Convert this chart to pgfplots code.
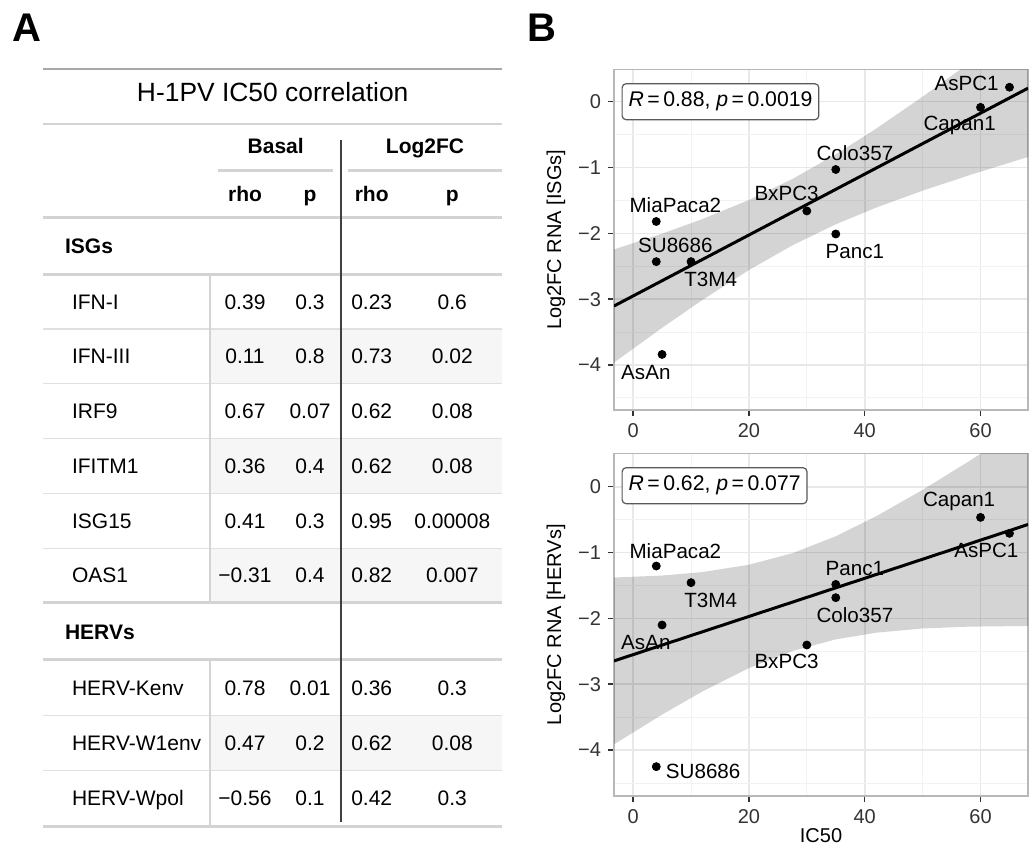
\documentclass[border=0pt]{standalone}
\usepackage{fontspec}
\setmainfont{Liberation Sans}
\usepackage{pgfplots}
\pgfplotsset{compat=1.18}

\definecolor{rulegray}{HTML}{D3D3D3}
\definecolor{topgray}{HTML}{A8A8A8}
\definecolor{stripe}{HTML}{F6F6F6}

\pgfplotsset{
  rnapanel/.style={
    scale only axis, width=207pt,
    xmin=-3.3, xmax=68.2,
    xtick={0,20,40,60}, xticklabels={0,20,40,60},
    minor xtick={10,30,50},
    ytick={-4,-3,-2,-1,0}, yticklabels={−4,−3,−2,−1,0},
    minor ytick={-4.5,-3.5,-2.5,-1.5,-0.5},
    grid=both,
    major grid style={black!9, line width=0.8pt},
    minor grid style={black!5, line width=0.4pt},
    axis line style={black!28, line width=0.7pt},
    tick pos=left, tick align=outside,
    major tick length=3pt, minor tick length=0pt,
    tick style={black!80, line width=0.7pt},
    ticklabel style={font=\fontsize{10}{11}\selectfont, text=black!80},
    label style={font=\fontsize{11.5}{13}\selectfont},
    every axis y label/.style={at={(axis description cs:-0.14,0.5)}, rotate=90, anchor=center},
    every axis x label/.style={at={(axis description cs:0.5,-0.116)}, anchor=center},
    clip mode=individual,
  },
}
\tikzset{
  ptlab/.style={font=\fontsize{10.3}{12}\selectfont, inner sep=0pt},
  rbox/.style={draw=black!65, fill=white, rounded corners=2pt, line width=0.6pt,
    font=\fontsize{10.6}{12}\selectfont, inner xsep=3.2pt, minimum height=18pt, anchor=west},
}

\begin{document}
\begin{tikzpicture}
\path[use as bounding box] (0,0) rectangle (518pt,424.5pt);

% ---------------- panel A: table ----------------
\begin{scope}[x=0.5pt, y=-0.5pt, yshift=424.5pt]
  \node[font=\fontsize{20}{22}\bfseries\selectfont, anchor=base] at (27,41.7) {A};
  \node[font=\fontsize{20}{22}\bfseries\selectfont, anchor=base] at (542,42) {B};

  % striped rows
  \foreach \ya/\yb in {329/383.7, 438.7/493.3, 548.3/602.7, 715.3/770.7}
    \fill[stripe] (210,\ya) rectangle (502,\yb);

  % rules
  \draw[topgray, line width=1.3pt] (43,69) -- (502,69);
  \foreach \yy in {124, 217.7, 274.3, 602.7, 659.3, 826.7}
    \draw[rulegray, line width=1.3pt] (43,\yy) -- (502,\yy);
  \foreach \yy in {329, 383.7, 438.7, 493.3, 548.3, 715.3, 770.7}
    \draw[rulegray!70, line width=0.7pt] (43,\yy) -- (502,\yy);
  \draw[rulegray, line width=1.8pt] (218,170.7) -- (333,170.7);
  \draw[rulegray, line width=1.8pt] (348,170.7) -- (502,170.7);
  \draw[rulegray, line width=1.2pt] (210,274.3) -- (210,602.7);
  \draw[rulegray, line width=1.2pt] (210,659.3) -- (210,826.7);
  \draw[black!75, line width=1pt] (340.7,140) -- (340.7,821.7);

  % header
  \node[font=\fontsize{13.2}{15}\selectfont, anchor=base] at (272.7,101.7) {H-1PV IC50 correlation};
  \begin{scope}[every node/.style={font=\fontsize{10.5}{12}\bfseries\selectfont, anchor=base}]
    \node at (275.7,154) {Basal};
    \node at (425,154) {Log2FC};
    \node at (245,201.7) {rho};
    \node at (310,201.7) {p};
    \node at (371.7,201.7) {rho};
    \node at (452.3,201.7) {p};
    \node[anchor=base west] at (58,254) {ISGs};
    \node[anchor=base west] at (58,639.3) {HERVs};
  \end{scope}

  % body
  \begin{scope}[every node/.style={font=\fontsize{10.5}{12}\selectfont, anchor=base}]
    \foreach \yb/\lab/\ra/\pa/\rb/\pb in {
      309.3/IFN-I/0.39/0.3/0.23/0.6,
      364/IFN-III/0.11/0.8/0.73/0.02,
      419/IRF9/0.67/0.07/0.62/0.08,
      473.3/IFITM1/0.36/0.4/0.62/0.08,
      528.7/ISG15/0.41/0.3/0.95/0.00008,
      582.7/OAS1/−0.31/0.4/0.82/0.007,
      695.7/HERV-Kenv/0.78/0.01/0.36/0.3,
      750.7/HERV-W1env/0.47/0.2/0.62/0.08,
      806/HERV-Wpol/−0.56/0.1/0.42/0.3}{
      \node[anchor=base west] at (65,\yb) {\lab};
      \node at (245,\yb) {\ra};
      \node at (310,\yb) {\pa};
      \node at (371.7,\yb) {\rb};
      \node at (452.3,\yb) {\pb};
    }
  \end{scope}
\end{scope}

% ---------------- panel B top: ISGs ----------------
\begin{axis}[rnapanel, at={(307pt,219.5pt)}, anchor=south west,
  height=170.3pt, ymin=-4.684, ymax=0.491,
  ylabel={Log2FC RNA [ISGs]}]
  \addplot[draw=none, fill=black, fill opacity=0.17] coordinates {
    (-3.3,-2.245) (5,-2.005) (12,-1.782) (20,-1.494) (27.56,-1.172) (35,-0.801)
    (42,-0.408) (50,0.076) (58,0.584) (68.2,1.250)
    (68.2,-0.840) (58,-1.118) (50,-1.352) (42,-1.608) (35,-1.863) (27.56,-2.180)
    (20,-2.558) (12,-3.010) (5,-3.436) (-3.3,-3.963)} -- cycle;
  \addplot[black, line width=1.5pt] coordinates {(-3.3,-3.104) (68.2,0.205)};
  \addplot[only marks, mark=*, mark size=2pt, black] coordinates {
    (65,0.22) (60,-0.086) (35,-1.03) (30,-1.66) (35,-2.01)
    (4,-1.82) (4,-2.43) (10,-2.43) (5,-3.84)};
  \node[ptlab] at (axis cs:57.6,0.28) {AsPC1};
  \node[ptlab] at (axis cs:56.4,-0.354) {Capan1};
  \node[ptlab] at (axis cs:38.3,-0.785) {Colo357};
  \node[ptlab] at (axis cs:26.5,-1.40) {BxPC3};
  \node[ptlab] at (axis cs:7.3,-1.57) {MiaPaca2};
  \node[ptlab] at (axis cs:7.3,-2.19) {SU8686};
  \node[ptlab] at (axis cs:13.4,-2.70) {T3M4};
  \node[ptlab] at (axis cs:38.3,-2.28) {Panc1};
  \node[ptlab] at (axis cs:2.2,-4.11) {AsAn};
  \node[rbox] at (axis cs:-2.0,0.0) {\textit{R}\,=\,0.88, \textit{p}\,=\,0.0019};
\end{axis}

% ---------------- panel B bottom: HERVs ----------------
\begin{axis}[rnapanel, at={(307pt,26.5pt)}, anchor=south west,
  height=171.3pt, ymin=-4.699, ymax=0.506,
  ylabel={Log2FC RNA [HERVs]}, xlabel={IC50}]
  \addplot[draw=none, fill=black, fill opacity=0.17] coordinates {
    (-3.3,-1.380) (5,-1.350) (12,-1.297) (20,-1.186) (27.56,-1.009) (35,-0.753)
    (42,-0.448) (50,-0.048) (58,0.386) (68.2,0.968)
    (68.2,-2.116) (58,-2.126) (50,-2.154) (42,-2.218) (35,-2.319) (27.56,-2.495)
    (20,-2.756) (12,-3.109) (5,-3.462) (-3.3,-3.914)} -- cycle;
  \addplot[black, line width=1.5pt] coordinates {(-3.3,-2.647) (68.2,-0.574)};
  \addplot[only marks, mark=*, mark size=2pt, black] coordinates {
    (60,-0.466) (65,-0.709) (4,-1.205) (10,-1.458) (35,-1.484)
    (35,-1.686) (5,-2.101) (30,-2.405) (4,-4.253)};
  \node[ptlab] at (axis cs:56.3,-0.228) {Capan1};
  \node[ptlab] at (axis cs:61.0,-0.972) {AsPC1};
  \node[ptlab] at (axis cs:7.3,-0.977) {MiaPaca2};
  \node[ptlab] at (axis cs:13.4,-1.72) {T3M4};
  \node[ptlab] at (axis cs:38.3,-1.25) {Panc1};
  \node[ptlab] at (axis cs:38.3,-1.95) {Colo357};
  \node[ptlab] at (axis cs:2.2,-2.37) {AsAn};
  \node[ptlab] at (axis cs:26.5,-2.66) {BxPC3};
  \node[ptlab] at (axis cs:12.1,-4.32) {SU8686};
  \node[rbox] at (axis cs:-2.0,0.015) {\textit{R}\,=\,0.62, \textit{p}\,=\,0.077};
\end{axis}
\end{tikzpicture}
\end{document}
